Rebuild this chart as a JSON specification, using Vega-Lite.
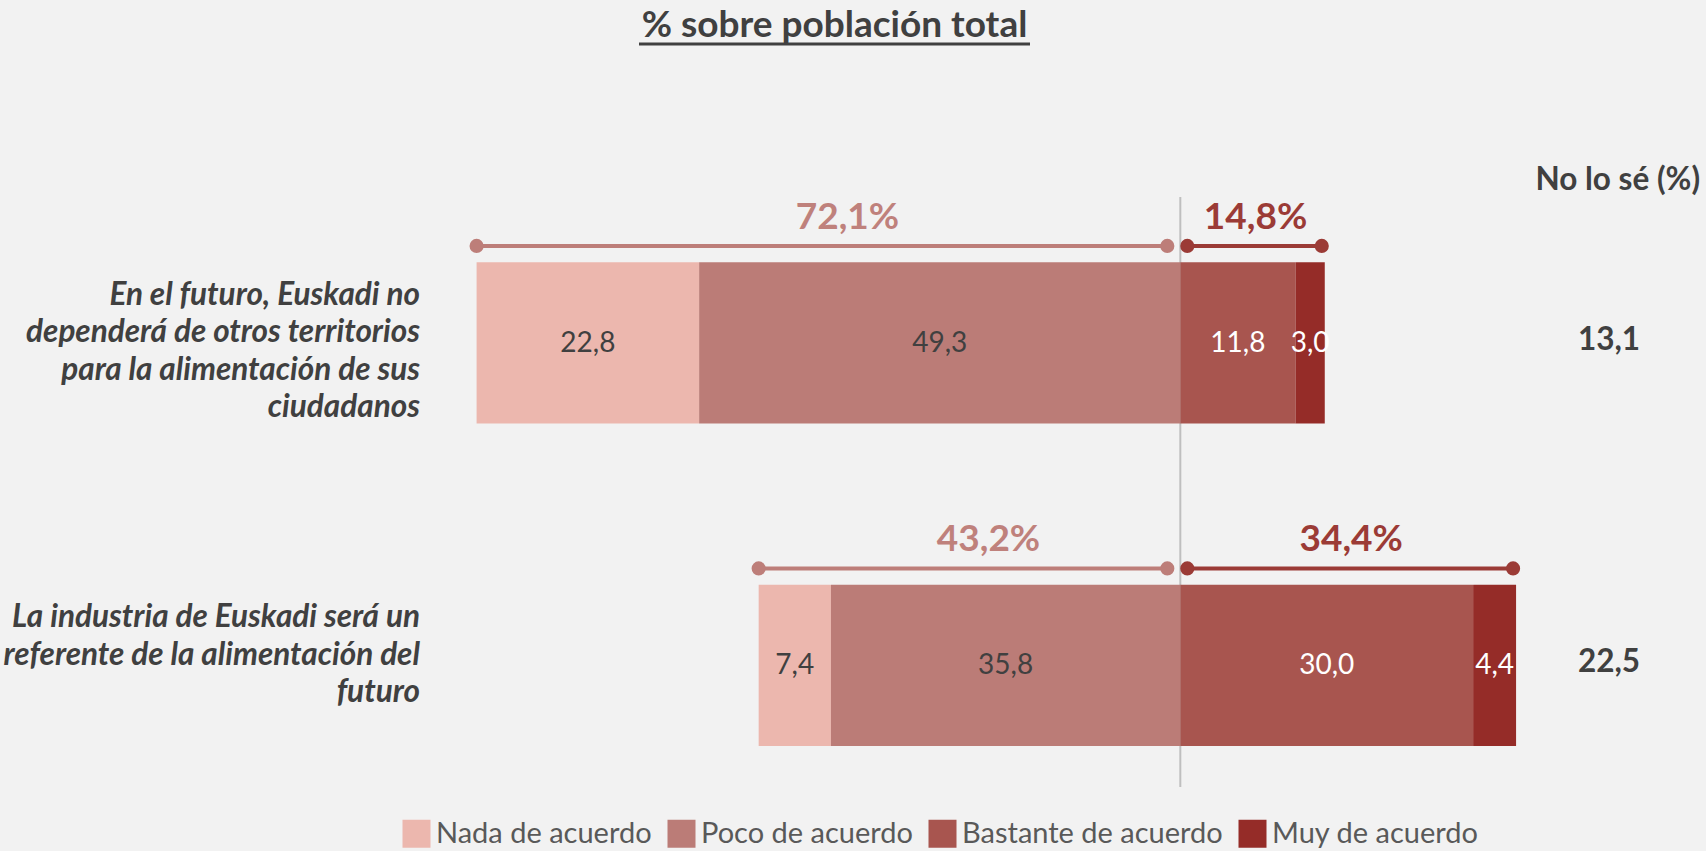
{
  "$schema": "https://vega.github.io/schema/vega-lite/v6.json",
  "width": 1706,
  "height": 851,
  "autosize": {"type": "none"},
  "padding": 0,
  "background": "#F2F2F2",
  "config": {"view": {"stroke": null}, "text": {"font": "Lato"}, "font": "Lato"},
  "datasets": {
    "seg": [
      {"pregunta": "En el futuro, Euskadi no\ndependerá de otros territorios\npara la alimentación de sus\nciudadanos", "cat": "Nada de acuerdo", "lado": "neg", "value": 22.8},
      {"pregunta": "En el futuro, Euskadi no\ndependerá de otros territorios\npara la alimentación de sus\nciudadanos", "cat": "Poco de acuerdo", "lado": "neg", "value": 49.3},
      {"pregunta": "En el futuro, Euskadi no\ndependerá de otros territorios\npara la alimentación de sus\nciudadanos", "cat": "Bastante de acuerdo", "lado": "pos", "value": 11.8},
      {"pregunta": "En el futuro, Euskadi no\ndependerá de otros territorios\npara la alimentación de sus\nciudadanos", "cat": "Muy de acuerdo", "lado": "pos", "value": 3.0},
      {"pregunta": "La industria de Euskadi será un\nreferente de la alimentación del\nfuturo", "cat": "Nada de acuerdo", "lado": "neg", "value": 7.4},
      {"pregunta": "La industria de Euskadi será un\nreferente de la alimentación del\nfuturo", "cat": "Poco de acuerdo", "lado": "neg", "value": 35.8},
      {"pregunta": "La industria de Euskadi será un\nreferente de la alimentación del\nfuturo", "cat": "Bastante de acuerdo", "lado": "pos", "value": 30.0},
      {"pregunta": "La industria de Euskadi será un\nreferente de la alimentación del\nfuturo", "cat": "Muy de acuerdo", "lado": "pos", "value": 4.4}
    ],
    "preg": [
      {"pregunta": "En el futuro, Euskadi no\ndependerá de otros territorios\npara la alimentación de sus\nciudadanos", "no_sabe": 13.1},
      {"pregunta": "La industria de Euskadi será un\nreferente de la alimentación del\nfuturo", "no_sabe": 22.5}
    ]
  },
  "layer": [
    {
      "data": {"name": "preg"},
      "transform": [
        {"window": [{"op": "first_value", "field": "pregunta", "as": "p1"}, {"op": "last_value", "field": "pregunta", "as": "p2"}], "frame": [null, null]},
        {"filter": "datum.pregunta === datum.p1"},
        {"calculate": "0", "as": "cero"}
      ],
      "mark": {"type": "rule", "color": "#BFBFBF", "strokeWidth": 2, "yOffset": -146, "y2Offset": 121.5},
      "encoding": {
        "x": {"field": "cero", "type": "quantitative", "scale": {"domain": [-120.93, 53.86], "nice": false, "zero": false}, "axis": null},
        "y": {"field": "p1", "type": "nominal", "scale": {"paddingInner": 0.5, "paddingOuter": 0.5694, "align": 0.7141}, "axis": null},
        "y2": {"field": "p2"}
      }
    },
    {
      "data": {"name": "seg"},
      "transform": [
        {"calculate": "datum.lado === 'neg' ? -datum.value : datum.value", "as": "v"},
        {"calculate": "indexof(['Poco de acuerdo','Nada de acuerdo','Bastante de acuerdo','Muy de acuerdo'], datum.cat)", "as": "orden"},
        {"stack": "v", "groupby": ["pregunta"], "sort": [{"field": "orden", "order": "ascending"}], "as": ["x0", "x1"]},
        {"calculate": "(datum.x0 + datum.x1) / 2", "as": "xm"},
        {"calculate": "replace(format(datum.value, '.1f'), '.', ',')", "as": "txt"}
      ],
      "layer": [
        {
          "mark": {"type": "bar"},
          "encoding": {
            "y": {"field": "pregunta", "type": "nominal", "scale": {"paddingInner": 0.5, "paddingOuter": 0.5694, "align": 0.7141}, "axis": null},
            "x": {"field": "x0", "type": "quantitative", "scale": {"domain": [-120.93, 53.86], "nice": false, "zero": false}, "axis": null},
            "x2": {"field": "x1"},
            "color": {
              "field": "cat", "type": "nominal",
              "scale": {"domain": ["Nada de acuerdo", "Poco de acuerdo", "Bastante de acuerdo", "Muy de acuerdo"], "range": ["#ECB7AE", "#BB7C77", "#A8554F", "#952C28"]},
              "legend": {"title": null, "orient": "none", "legendX": 402, "legendY": 819, "direction": "horizontal", "symbolType": "square", "symbolSize": 784, "symbolStrokeWidth": 0, "symbolOpacity": 1, "labelFont": "Lato", "labelFontSize": 29, "labelColor": "#595959", "labelOffset": 5, "columnPadding": 15, "labelLimit": 400}
            }
          }
        },
        {
          "mark": {"type": "text", "fontSize": 28, "dy": 1, "baseline": "middle"},
          "encoding": {
            "y": {"field": "pregunta", "type": "nominal", "scale": {"paddingInner": 0.5, "paddingOuter": 0.5694, "align": 0.7141}, "axis": null},
            "x": {"field": "xm", "type": "quantitative", "scale": {"domain": [-120.93, 53.86], "nice": false, "zero": false}, "axis": null},
            "text": {"field": "txt"},
            "color": {"condition": {"test": "datum.lado === 'pos'", "value": "#FFFFFF"}, "value": "#404040"}
          }
        }
      ]
    },
    {
      "data": {"name": "seg"},
      "transform": [
        {"aggregate": [{"op": "sum", "field": "value", "as": "total"}], "groupby": ["pregunta", "lado"]},
        {"calculate": "datum.lado === 'neg' ? -datum.total : datum.total", "as": "extremo"},
        {"calculate": "datum.extremo / 2", "as": "medio"},
        {"calculate": "0", "as": "cero"},
        {"calculate": "replace(format(datum.total, '.1f'), '.', ',') + '%'", "as": "etiqueta"}
      ],
      "layer": [
        {
          "transform": [{"filter": "datum.lado === 'neg'"}],
          "mark": {"type": "rule", "color": "#BD7E79", "strokeWidth": 4, "yOffset": -97, "x2Offset": -13},
          "encoding": {
            "y": {"field": "pregunta", "type": "nominal", "scale": {"paddingInner": 0.5, "paddingOuter": 0.5694, "align": 0.7141}, "axis": null},
            "x": {"field": "extremo", "type": "quantitative", "scale": {"domain": [-120.93, 53.86], "nice": false, "zero": false}, "axis": null},
            "x2": {"field": "cero"}
          }
        },
        {
          "transform": [{"filter": "datum.lado === 'neg'"}],
          "mark": {"type": "point", "filled": true, "size": 200, "opacity": 1, "color": "#BD7E79", "yOffset": -97},
          "encoding": {
            "y": {"field": "pregunta", "type": "nominal", "scale": {"paddingInner": 0.5, "paddingOuter": 0.5694, "align": 0.7141}, "axis": null},
            "x": {"field": "extremo", "type": "quantitative", "scale": {"domain": [-120.93, 53.86], "nice": false, "zero": false}, "axis": null}
          }
        },
        {
          "transform": [{"filter": "datum.lado === 'neg'"}],
          "mark": {"type": "point", "filled": true, "size": 200, "opacity": 1, "color": "#BD7E79", "yOffset": -97, "xOffset": -13},
          "encoding": {
            "y": {"field": "pregunta", "type": "nominal", "scale": {"paddingInner": 0.5, "paddingOuter": 0.5694, "align": 0.7141}, "axis": null},
            "x": {"field": "cero", "type": "quantitative", "scale": {"domain": [-120.93, 53.86], "nice": false, "zero": false}, "axis": null}
          }
        },
        {
          "transform": [{"filter": "datum.lado === 'pos'"}],
          "mark": {"type": "rule", "color": "#9B3B36", "strokeWidth": 4, "yOffset": -97, "xOffset": 7, "x2Offset": -3},
          "encoding": {
            "y": {"field": "pregunta", "type": "nominal", "scale": {"paddingInner": 0.5, "paddingOuter": 0.5694, "align": 0.7141}, "axis": null},
            "x": {"field": "cero", "type": "quantitative", "scale": {"domain": [-120.93, 53.86], "nice": false, "zero": false}, "axis": null},
            "x2": {"field": "extremo"}
          }
        },
        {
          "transform": [{"filter": "datum.lado === 'pos'"}],
          "mark": {"type": "point", "filled": true, "size": 200, "opacity": 1, "color": "#9B3B36", "yOffset": -97, "xOffset": 7},
          "encoding": {
            "y": {"field": "pregunta", "type": "nominal", "scale": {"paddingInner": 0.5, "paddingOuter": 0.5694, "align": 0.7141}, "axis": null},
            "x": {"field": "cero", "type": "quantitative", "scale": {"domain": [-120.93, 53.86], "nice": false, "zero": false}, "axis": null}
          }
        },
        {
          "transform": [{"filter": "datum.lado === 'pos'"}],
          "mark": {"type": "point", "filled": true, "size": 200, "opacity": 1, "color": "#9B3B36", "yOffset": -97, "xOffset": -3},
          "encoding": {
            "y": {"field": "pregunta", "type": "nominal", "scale": {"paddingInner": 0.5, "paddingOuter": 0.5694, "align": 0.7141}, "axis": null},
            "x": {"field": "extremo", "type": "quantitative", "scale": {"domain": [-120.93, 53.86], "nice": false, "zero": false}, "axis": null}
          }
        },
        {
          "transform": [{"filter": "datum.lado === 'neg'"}],
          "mark": {"type": "text", "fontSize": 37, "fontWeight": "bold", "color": "#BF817C", "baseline": "alphabetic", "dy": -114, "dx": 19},
          "encoding": {
            "y": {"field": "pregunta", "type": "nominal", "scale": {"paddingInner": 0.5, "paddingOuter": 0.5694, "align": 0.7141}, "axis": null},
            "x": {"field": "medio", "type": "quantitative", "scale": {"domain": [-120.93, 53.86], "nice": false, "zero": false}, "axis": null},
            "text": {"field": "etiqueta"}
          }
        },
        {
          "transform": [{"filter": "datum.lado === 'pos'"}],
          "mark": {"type": "text", "fontSize": 37, "fontWeight": "bold", "color": "#9B3B36", "baseline": "alphabetic", "dy": -114, "dx": 3},
          "encoding": {
            "y": {"field": "pregunta", "type": "nominal", "scale": {"paddingInner": 0.5, "paddingOuter": 0.5694, "align": 0.7141}, "axis": null},
            "x": {"field": "medio", "type": "quantitative", "scale": {"domain": [-120.93, 53.86], "nice": false, "zero": false}, "axis": null},
            "text": {"field": "etiqueta"}
          }
        }
      ]
    },
    {
      "data": {"name": "preg"},
      "transform": [{"calculate": "-77.9", "as": "xlab"}],
      "mark": {"type": "text", "align": "right", "baseline": "top", "dy": -63, "fontSize": 31.5, "fontStyle": "italic", "fontWeight": "bold", "color": "#404040", "lineBreak": "\n", "lineHeight": 37.5},
      "encoding": {
        "y": {"field": "pregunta", "type": "nominal", "scale": {"paddingInner": 0.5, "paddingOuter": 0.5694, "align": 0.7141}, "axis": null},
        "x": {"field": "xlab", "type": "quantitative", "scale": {"domain": [-120.93, 53.86], "nice": false, "zero": false}, "axis": null},
        "text": {"field": "pregunta", "type": "nominal"}
      }
    },
    {
      "data": {"name": "preg"},
      "transform": [
        {"calculate": "replace(format(datum.no_sabe, '.1f'), '.', ',')", "as": "ns"},
        {"calculate": "43.92", "as": "xns"}
      ],
      "mark": {"type": "text", "fontSize": 31.5, "fontWeight": "bold", "color": "#404040", "baseline": "middle", "dy": -2},
      "encoding": {
        "y": {"field": "pregunta", "type": "nominal", "scale": {"paddingInner": 0.5, "paddingOuter": 0.5694, "align": 0.7141}, "axis": null},
        "x": {"field": "xns", "type": "quantitative", "scale": {"domain": [-120.93, 53.86], "nice": false, "zero": false}, "axis": null},
        "text": {"field": "ns"}
      }
    },
    {
      "data": {"name": "preg"},
      "transform": [
        {"filter": "indexof(datum.pregunta, 'En el futuro') === 0"},
        {"calculate": "53.25", "as": "xh"},
        {"calculate": "'No lo sé (%)'", "as": "cab"}
      ],
      "mark": {"type": "text", "fontSize": 31.5, "fontWeight": "bold", "color": "#404040", "baseline": "alphabetic", "align": "right", "dy": -153},
      "encoding": {
        "y": {"field": "pregunta", "type": "nominal", "scale": {"paddingInner": 0.5, "paddingOuter": 0.5694, "align": 0.7141}, "axis": null},
        "x": {"field": "xh", "type": "quantitative", "scale": {"domain": [-120.93, 53.86], "nice": false, "zero": false}, "axis": null},
        "text": {"field": "cab"}
      }
    },
    {
      "data": {"name": "preg"},
      "transform": [
        {"filter": "indexof(datum.pregunta, 'En el futuro') === 0"},
        {"calculate": "-35.43", "as": "xt"},
        {"calculate": "'% sobre población total'", "as": "titulo"}
      ],
      "mark": {"type": "text", "fontSize": 37, "fontWeight": "bold", "color": "#404040", "baseline": "alphabetic", "align": "center", "dy": -306},
      "encoding": {
        "y": {"field": "pregunta", "type": "nominal", "scale": {"paddingInner": 0.5, "paddingOuter": 0.5694, "align": 0.7141}, "axis": null},
        "x": {"field": "xt", "type": "quantitative", "scale": {"domain": [-120.93, 53.86], "nice": false, "zero": false}, "axis": null},
        "text": {"field": "titulo"}
      }
    },
    {
      "data": {"name": "preg"},
      "transform": [
        {"filter": "indexof(datum.pregunta, 'En el futuro') === 0"},
        {"calculate": "-55.46", "as": "u0"},
        {"calculate": "-15.4", "as": "u1"}
      ],
      "mark": {"type": "rule", "color": "#404040", "strokeWidth": 3, "yOffset": -299},
      "encoding": {
        "y": {"field": "pregunta", "type": "nominal", "scale": {"paddingInner": 0.5, "paddingOuter": 0.5694, "align": 0.7141}, "axis": null},
        "x": {"field": "u0", "type": "quantitative", "scale": {"domain": [-120.93, 53.86], "nice": false, "zero": false}, "axis": null},
        "x2": {"field": "u1"}
      }
    }
  ]
}
